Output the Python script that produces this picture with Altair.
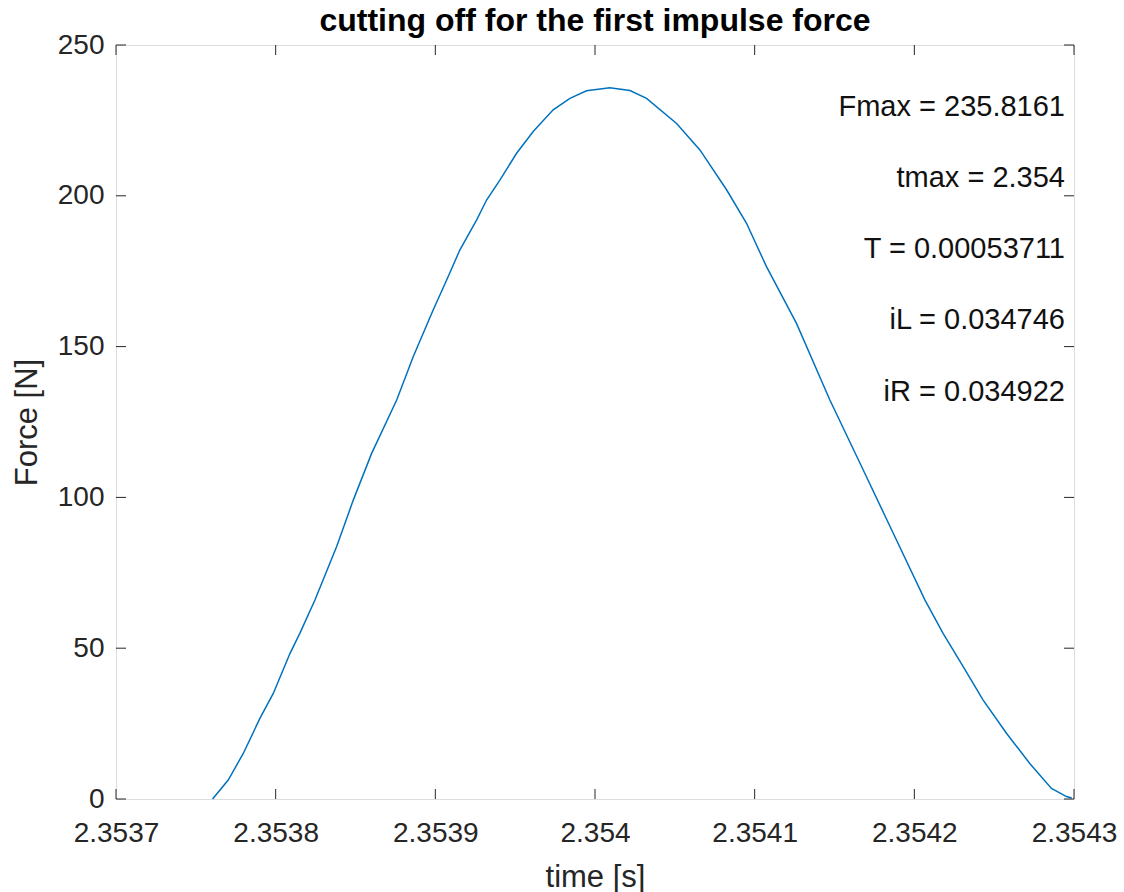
import altair as alt
import pandas as pd

# ---- data ----
T_OFFSET_E4 = [0.605, 0.703, 0.797, 0.902, 0.985, 1.090, 1.152, 1.246, 1.382, 1.486,
               1.601, 1.758, 1.862, 1.987, 2.071, 2.154, 2.259, 2.321, 2.405, 2.509,
               2.613, 2.738, 2.843, 2.947, 3.093, 3.219, 3.323, 3.511, 3.657, 3.824,
               3.949, 4.074, 4.262, 4.471, 4.680, 4.868, 5.066, 5.180, 5.306, 5.431,
               5.577, 5.723, 5.859, 5.953, 5.986]
FORCE = [0.0, 6.3, 15.1, 26.8, 35.0, 48.3, 55.0, 66.0, 83.7, 99.1,
         114.6, 132.3, 146.7, 162.2, 172.1, 182.1, 192.0, 198.6, 205.3, 214.1,
         221.3, 228.5, 232.3, 234.8, 235.8, 234.9, 232.3, 224.0, 215.2, 202.0,
         190.9, 176.5, 157.7, 132.3, 109.1, 88.1, 66.0, 54.9, 43.9, 32.8,
         21.8, 11.8, 3.5, 0.8, 0.3]
T_BASE = 2.3537

X_TICKS = [2.3537, 2.3538, 2.3539, 2.3540, 2.3541, 2.3542, 2.3543]
Y_TICKS = [0, 50, 100, 150, 200, 250]

ANNOTATIONS = ["Fmax = 235.8161", "tmax = 2.354", "T = 0.00053711",
               "iL = 0.034746", "iR = 0.034922"]

TITLE = "cutting off for the first impulse force"
XLABEL = "time [s]"
YLABEL = "Force [N]"

# ---- build tables ----
curve = pd.DataFrame({"t": [T_BASE + u * 1e-4 for u in T_OFFSET_E4], "f": FORCE})
xt = pd.DataFrame({"t": X_TICKS})
yt = pd.DataFrame({"f": Y_TICKS})
ann = pd.DataFrame({"label": ANNOTATIONS, "i": list(range(len(ANNOTATIONS)))})
ttl = pd.DataFrame({"label": [TITLE]})

W, H = 958, 754
FONT = "Liberation Sans"
AX = "#262626"
TICK_LEN = 10

xscale = alt.Scale(domain=[2.3537, 2.3543], zero=False, nice=False)
yscale = alt.Scale(domain=[0, 250], zero=False, nice=False)

line = alt.Chart(curve).mark_line(color="#0072BD", strokeWidth=1.5).encode(
    x=alt.X("t:Q", scale=xscale,
            axis=alt.Axis(values=X_TICKS, format=".4~f", title=XLABEL,
                          tickSize=0, domain=False, grid=False,
                          labelPadding=20, labelFontSize=28, labelColor=AX,
                          labelFont=FONT, titleFont=FONT, titleFontSize=31,
                          titleFontWeight="normal", titleColor=AX,
                          titleBaseline="alphabetic", titleY=87,
                          labelFlush=False)),
    y=alt.Y("f:Q", scale=yscale,
            axis=alt.Axis(values=Y_TICKS, title=YLABEL, tickSize=0, domain=False,
                          grid=False, labelPadding=12, labelFontSize=28,
                          labelColor=AX, labelFont=FONT, titleFont=FONT,
                          titleFontSize=31, titleFontWeight="normal",
                          titleColor=AX, titleBaseline="alphabetic",
                          titleX=-80, labelFlush=False)),
)

xt_bottom = alt.Chart(xt).mark_rule(color=AX, strokeWidth=1).encode(
    x=alt.X("t:Q", scale=xscale), y=alt.value(H), y2=alt.value(H - TICK_LEN))
xt_top = alt.Chart(xt).mark_rule(color=AX, strokeWidth=1).encode(
    x=alt.X("t:Q", scale=xscale), y=alt.value(0), y2=alt.value(TICK_LEN))
yt_left = alt.Chart(yt).mark_rule(color=AX, strokeWidth=1).encode(
    y=alt.Y("f:Q", scale=yscale), x=alt.value(0), x2=alt.value(TICK_LEN))
yt_right = alt.Chart(yt).mark_rule(color=AX, strokeWidth=1).encode(
    y=alt.Y("f:Q", scale=yscale), x=alt.value(W - TICK_LEN), x2=alt.value(W))

text = alt.Chart(ann).transform_calculate(
    py="61.7 + datum.i * 71.25"
).mark_text(align="right", baseline="middle", font=FONT, fontSize=29,
            color="#111111").encode(
    x=alt.value(949),
    y=alt.Y("py:Q", scale=None, axis=None),
    text="label:N",
)

title = alt.Chart(ttl).mark_text(align="center", baseline="alphabetic", font=FONT,
                                 fontSize=32, fontWeight="bold",
                                 color="#000000").encode(
    x=alt.value(W / 2), y=alt.value(-14), text="label:N")

chart = alt.layer(line, xt_bottom, xt_top, yt_left, yt_right, text, title).properties(
    width=W, height=H,
    autosize=alt.AutoSizeParams(type="none"),
    padding={"left": 116, "top": 45, "right": 50, "bottom": 93},
).configure_view(stroke="#303030", strokeWidth=1.3).configure(background="white")

chart.save("out.html", embed_options={"renderer": "svg", "actions": False})
